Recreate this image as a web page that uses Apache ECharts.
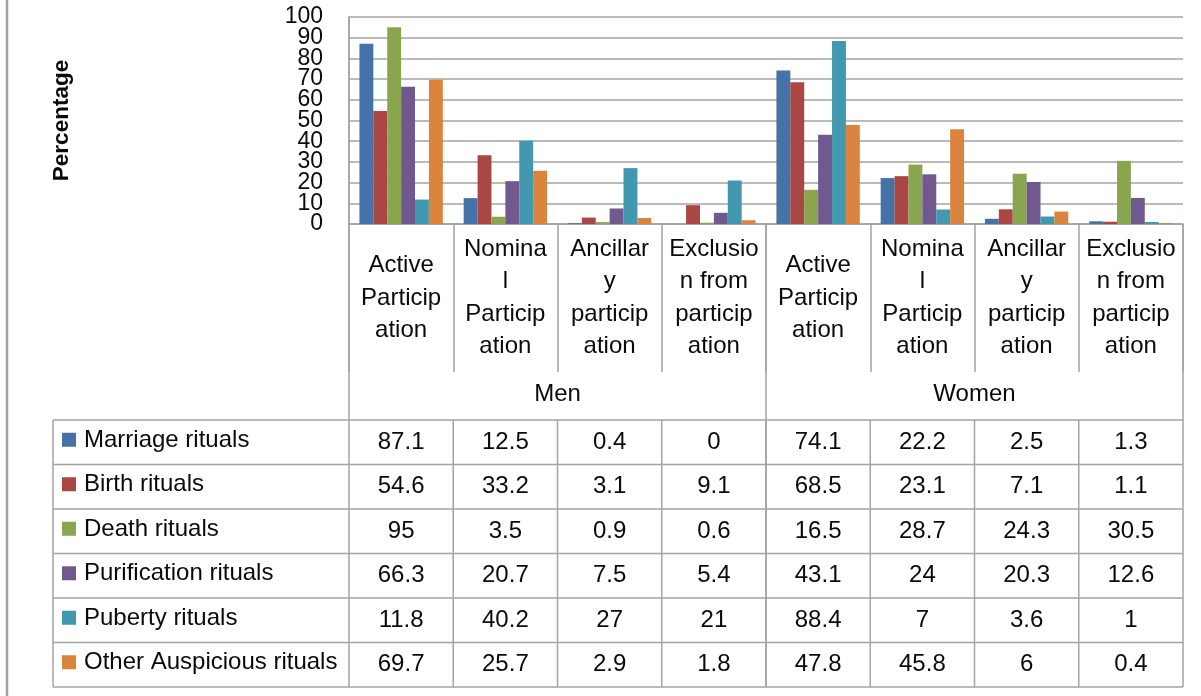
<!DOCTYPE html>
<html>
<head>
<meta charset="utf-8">
<script src="https://cdn.jsdelivr.net/npm/echarts@6/dist/echarts.min.js"></script>
<style>
html,body{margin:0;padding:0;background:#fff;}
#main{width:1201px;height:696px;}
</style>
</head>
<body>
<div id="main"></div>
<script>
// ---- data ----
const categories = ['Active Participation', 'Nominal Participation', 'Ancillary participation', 'Exclusion from participation'];
const categoryLabels = ['Active\nParticip\nation', 'Nomina\nl\nParticip\nation', 'Ancillar\ny\nparticip\nation', 'Exclusio\nn from\nparticip\nation'];
const groups = ['Men', 'Women'];
const seriesNames = ['Marriage rituals', 'Birth rituals', 'Death rituals', 'Purification rituals', 'Puberty rituals', 'Other Auspicious rituals'];
const marriage     = [87.1, 12.5, 0.4, 0,   74.1, 22.2, 2.5, 1.3];
const birth        = [54.6, 33.2, 3.1, 9.1, 68.5, 23.1, 7.1, 1.1];
const death        = [95,   3.5,  0.9, 0.6, 16.5, 28.7, 24.3, 30.5];
const purification = [66.3, 20.7, 7.5, 5.4, 43.1, 24,   20.3, 12.6];
const puberty      = [11.8, 40.2, 27,  21,  88.4, 7,    3.6, 1];
const auspicious   = [69.7, 25.7, 2.9, 1.8, 47.8, 45.8, 6,   0.4];
const seriesData = [marriage, birth, death, purification, puberty, auspicious];
const yTicks = [0, 10, 20, 30, 40, 50, 60, 70, 80, 90, 100];
const yTitle = 'Percentage';

// ---- style ----
const colors = ['#4572A7', '#AA4643', '#89A54E', '#71588F', '#4198AF', '#DB843D'];
const FONT = "'Liberation Sans', Arial, sans-serif";
const LINE = '#A3A3A3';
const TXT = '#0a0a0a';
const FS = 24;
const G = {left: 349, right: 1183, top: 17, bottom: 224};
const labelRowBottom = 372, groupRowBottom = 420, tableBottom = 687, tableLeft = 53;
const rowH = (tableBottom - groupRowBottom) / seriesNames.length;

const xData = [];
groups.forEach(() => categories.forEach(c => xData.push(c)));
const labelMap = {};
categories.forEach((c, i) => labelMap[c] = categoryLabels[i]);

const chart = echarts.init(document.getElementById('main'), null, {renderer: 'canvas'});
chart.setOption({
  animation: false,
  backgroundColor: '#fff',
  color: colors,
  grid: {left: G.left, top: G.top, width: G.right - G.left, height: G.bottom - G.top, containLabel: false},
  xAxis: {
    type: 'category',
    data: xData,
    axisLine: {show: true, lineStyle: {color: LINE, width: 1.5}},
    axisTick: {show: true, interval: 0, length: labelRowBottom - G.bottom, lineStyle: {color: LINE, width: 1.5}},
    axisLabel: {
      interval: 0, margin: 74, verticalAlign: 'middle', align: 'center',
      fontFamily: FONT, fontSize: FS, lineHeight: 32.5, color: TXT,
      formatter: v => labelMap[v]
    }
  },
  yAxis: {
    type: 'value', min: yTicks[0], max: yTicks[yTicks.length - 1], interval: 10,
    name: yTitle, nameLocation: 'middle', nameRotate: 90, nameGap: 276,
    nameTextStyle: {fontFamily: FONT, fontSize: 22.5, fontWeight: 'bold', color: TXT},
    axisLine: {show: true, lineStyle: {color: LINE, width: 1.5}},
    axisTick: {show: false},
    axisLabel: {show: false},
    splitLine: {lineStyle: {color: LINE, width: 1.5}}
  },
  series: seriesData.map((d, i) => ({
    name: seriesNames[i], type: 'bar', data: d,
    barGap: '0%', barCategoryGap: '20%',
    itemStyle: {color: colors[i]}
  }))
});

// ---- y tick labels (tightly packed, drawn so none get hidden) and data table ----
const els = [];
yTicks.forEach(t => {
  const y = chart.convertToPixel({yAxisIndex: 0}, t);
  els.push({type: 'text', silent: true, style: {text: String(t), x: G.left - 26, y: y, align: 'right', verticalAlign: 'middle', font: '23px ' + FONT, fill: TXT}});
});
function line(x1, y1, x2, y2, w) {
  els.push({type: 'line', silent: true, shape: {x1, y1, x2, y2}, style: {stroke: LINE, lineWidth: w || 1.5}});
}
const colW = (G.right - G.left) / xData.length;
line(7, 0, 7, 696, 2.5);
line(G.left, G.top, G.left, tableBottom);
line(G.right, G.bottom, G.right, tableBottom);
const midX = G.left + colW * categories.length;
line(midX, G.bottom, midX, tableBottom);
for (let r = 0; r <= seriesNames.length; r++) {
  const y = groupRowBottom + r * rowH;
  line(tableLeft, y, G.right, y);
}
line(tableLeft, groupRowBottom, tableLeft, tableBottom);
for (let j = 1; j < xData.length; j++) {
  const x = G.left + j * colW;
  line(x, groupRowBottom, x, tableBottom);
}
groups.forEach((g, gi) => {
  const cx = G.left + colW * categories.length * (gi + 0.5);
  els.push({type: 'text', silent: true, style: {text: g, x: cx, y: (labelRowBottom + groupRowBottom) / 2 - 2, align: 'center', verticalAlign: 'middle', font: FS + 'px ' + FONT, fill: TXT}});
});
seriesNames.forEach((name, i) => {
  const cy = groupRowBottom + (i + 0.5) * rowH;
  els.push({type: 'rect', silent: true, shape: {x: 62, y: cy - 9.5, width: 14, height: 14}, style: {fill: colors[i]}});
  els.push({type: 'text', silent: true, style: {text: name, x: 84, y: cy - 2, align: 'left', verticalAlign: 'middle', font: FS + 'px ' + FONT, fill: TXT}});
  seriesData[i].forEach((v, j) => {
    const cx = chart.convertToPixel({xAxisIndex: 0}, j);
    els.push({type: 'text', silent: true, style: {text: String(v), x: cx, y: cy, align: 'center', verticalAlign: 'middle', font: FS + 'px ' + FONT, fill: TXT}});
  });
});
chart.setOption({graphic: {elements: els}});
</script>
</body>
</html>
